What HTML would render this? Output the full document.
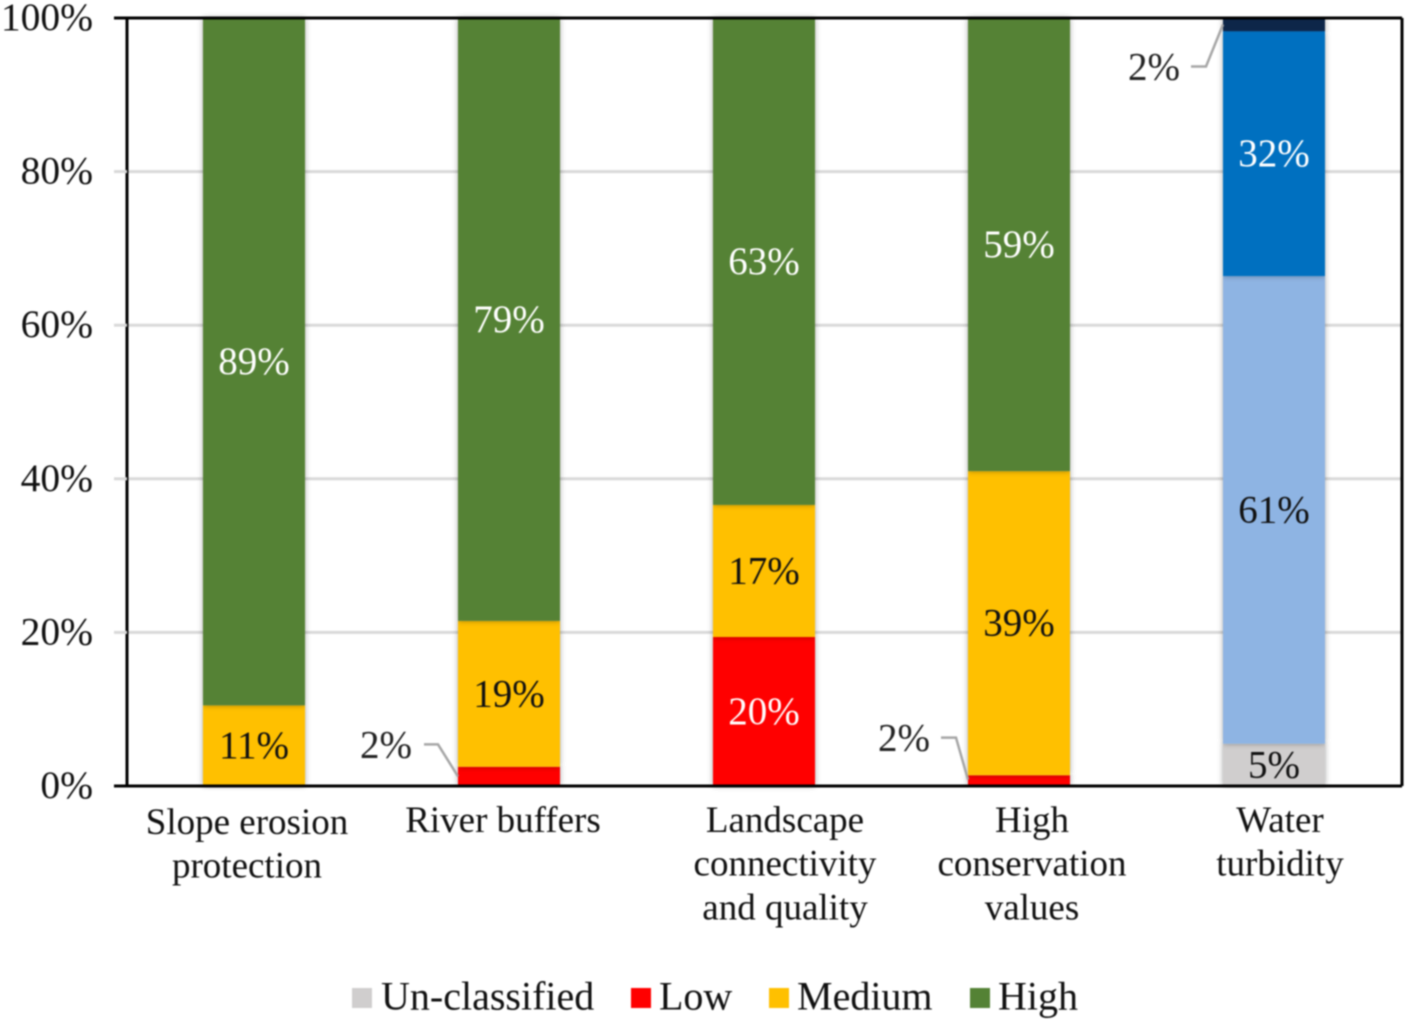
<!DOCTYPE html>
<html lang="en">
<head>
<meta charset="utf-8">
<title>Stacked bar chart of classification shares</title>
<style>
  html, body { margin: 0; padding: 0; background: #fff; }
  body { width: 1406px; height: 1021px; overflow: hidden; }
  svg { display: block; filter: blur(0.7px); }
  text { font-family: "Liberation Serif", "Times New Roman", serif; }
</style>
</head>
<body>
<svg id="chart" xmlns="http://www.w3.org/2000/svg" width="1406" height="1021" viewBox="0 0 1406 1021">
  <defs>
    <filter id="bar-shadow" x="-15%" y="-5%" width="130%" height="110%">
      <feDropShadow dx="0" dy="0" stdDeviation="3" flood-color="#000" flood-opacity="0.35"/>
    </filter>
  </defs>
  <g id="grid"></g>
  <g id="bars"></g>
  <g id="frame"></g>
  <g id="labels"></g>
  <g id="yaxis"></g>
  <g id="xaxis"></g>
  <g id="legend">
    <g>
      <rect x="352" y="988" width="20" height="20" fill="#d0cece"/>
      <text x="381" y="1009.5" font-size="40" fill="#111">Un-classified</text>
    </g>
    <g>
      <rect x="631" y="988" width="20" height="20" fill="#ff0000"/>
      <text x="659" y="1009.5" font-size="40" fill="#111">Low</text>
    </g>
    <g>
      <rect x="769" y="988" width="20" height="20" fill="#ffc000"/>
      <text x="797" y="1009.5" font-size="40" fill="#111">Medium</text>
    </g>
    <g>
      <rect x="970" y="988" width="20" height="20" fill="#548235"/>
      <text x="998" y="1009.5" font-size="40" fill="#111">High</text>
    </g>
  </g>
</svg>
<script>
const categories = ["Slope erosion protection", "River buffers", "Landscape connectivity and quality", "High conservation values", "Water turbidity"];
const categoryLines = [["Slope erosion", "protection"], ["River buffers"], ["Landscape", "connectivity", "and quality"], ["High", "conservation", "values"], ["Water", "turbidity"]];
const yTicks = [0, 20, 40, 60, 80, 100];
const seriesUnclassified = [0, 0, 0, 0, 5.5];
const seriesLow = [0, 2.5, 19.4, 1.4, 0];
const seriesMedium = [10.5, 19, 17.2, 39.6, 0];
const seriesHigh = [89.5, 78.5, 63.4, 59, 0];
const seriesTurbidityLight = [0, 0, 0, 0, 60.9];
const seriesTurbidityMid = [0, 0, 0, 0, 31.9];
const seriesTurbidityDark = [0, 0, 0, 0, 1.7];
const labelsUnclassified = ["", "", "", "", "5%"];
const labelsLow = ["", "2%", "20%", "2%", ""];
const labelsMedium = ["11%", "19%", "17%", "39%", ""];
const labelsHigh = ["89%", "79%", "63%", "59%", ""];
const labelsTurbidityLight = ["", "", "", "", "61%"];
const labelsTurbidityMid = ["", "", "", "", "32%"];
const labelsTurbidityDark = ["", "", "", "", "2%"];

const NS = "http://www.w3.org/2000/svg";
const plot = { left: 127, right: 1402, top: 18, bottom: 786 };
const barWidth = 102;
function xCenter(i) {
  return plot.left + (plot.right - plot.left) * (i + 0.5) / categories.length - 0.5;
}
function yScale(v) {
  return plot.bottom - (plot.bottom - plot.top) * v / 100;
}
function make(tag, attrs, parent, content) {
  const el = document.createElementNS(NS, tag);
  for (const k in attrs) el.setAttribute(k, attrs[k]);
  if (content !== undefined) el.textContent = content;
  parent.appendChild(el);
  return el;
}

const gridG = document.getElementById("grid");
const barsG = document.getElementById("bars");
const frameG = document.getElementById("frame");
const labelsG = document.getElementById("labels");
const yG = document.getElementById("yaxis");
const xG = document.getElementById("xaxis");

yTicks.forEach(function (t) {
  const y = yScale(t);
  const isEdge = t === 0 || t === 100;
  if (!isEdge) {
    const grid = make("line", { x1: plot.left, x2: plot.right, y1: y, y2: y, stroke: "#d9d9d9", "stroke-width": 3 }, gridG);
    
    
  }
  const tick = make("line", { x1: plot.left - 13, x2: plot.left, y1: y, y2: y, stroke: isEdge ? "#000" : "#d9d9d9", "stroke-width": 3 }, yG);
  
  
  const label = make("text", { x: 93, y: y + 12, "text-anchor": "end", "font-size": 39.5, fill: "#111" }, yG, t + "%");
  
  
});

const stackOrder = [
  { key: "unclassified", values: seriesUnclassified, labels: labelsUnclassified, color: "#d0cece", text: "#111" },
  { key: "low", values: seriesLow, labels: labelsLow, color: "#ff0000", text: "#fff" },
  { key: "medium", values: seriesMedium, labels: labelsMedium, color: "#ffc000", text: "#111" },
  { key: "high", values: seriesHigh, labels: labelsHigh, color: "#548235", text: "#fff" },
  { key: "turbidity-light", values: seriesTurbidityLight, labels: labelsTurbidityLight, color: "#8eb4e3", text: "#111" },
  { key: "turbidity-mid", values: seriesTurbidityMid, labels: labelsTurbidityMid, color: "#0070c0", text: "#fff" },
  { key: "turbidity-dark", values: seriesTurbidityDark, labels: labelsTurbidityDark, color: "#0f2749", text: "#fff" }
];

function calloutFor(seriesKey, i) {
  if (seriesKey === "low" && i === 1) return { dx: -123, dy: -32, outer: -85, knee: -71, tipY: 0 };
  if (seriesKey === "low" && i === 3) return { dx: -115, dy: -43, outer: -78, knee: -63, tipY: -1 };
  if (seriesKey === "turbidity-dark" && i === 4) return { dx: -120, dy: 42, outer: -83, knee: -68, tipY: 0 };
  return null;
}

categories.forEach(function (cat, i) {
  let total = 0;
  const cx = xCenter(i);
  stackOrder.forEach(function (s) {
    const v = s.values[i];
    if (v <= 0) return;
    const y0 = yScale(total + v);
    const y1 = yScale(total);
    const rect = make("rect", { x: cx - barWidth / 2, y: y0, width: barWidth, height: y1 - y0, fill: s.color, filter: "url(#bar-shadow)" }, barsG);
    
    
    const mid = (y0 + y1) / 2;
    const text = s.labels[i];
    if (text) {
      const co = calloutFor(s.key, i);
      if (co) {
        const leftEdge = cx - barWidth / 2;
        const path = make("polyline", {
          points: (cx + co.outer) + "," + (mid + co.dy) + " " + (cx + co.knee) + "," + (mid + co.dy) + " " + leftEdge + "," + (mid + co.tipY),
          fill: "none", stroke: "#a6a6a6", "stroke-width": 2.5
        }, labelsG);
        
        
        const lab = make("text", { x: cx + co.dx, y: mid + co.dy + 13, "text-anchor": "middle", "font-size": 39, fill: "#222" }, labelsG, text);
        
        
      } else {
        const lab = make("text", { x: cx, y: mid + 12.5, "text-anchor": "middle", "font-size": 39, fill: s.text }, labelsG, text);
        
        
      }
    }
    total += v;
  });
});

make("line", { x1: plot.left, x2: plot.right, y1: plot.top, y2: plot.top, stroke: "#000", "stroke-width": 3 }, frameG);
make("line", { x1: plot.left, x2: plot.right, y1: plot.bottom, y2: plot.bottom, stroke: "#000", "stroke-width": 3 }, frameG);
make("line", { x1: plot.left, x2: plot.left, y1: plot.top, y2: plot.bottom, stroke: "#000", "stroke-width": 3 }, frameG);
make("line", { x1: plot.right, x2: plot.right, y1: plot.top, y2: plot.bottom, stroke: "#000", "stroke-width": 3 }, frameG);

const categoryNudgeX = [-7.5, -6.5, 20.5, 12.5, 5.5];
const categoryFirstLineY = [834, 832, 832, 832, 832];
categoryLines.forEach(function (lines, i) {
  lines.forEach(function (line, j) {
    const t = make("text", { x: xCenter(i) + 0.5 + categoryNudgeX[i], y: categoryFirstLineY[i] + j * 43.7, "text-anchor": "middle", "font-size": 37, fill: "#111" }, xG, line);
    
    
  });
});
</script>
</body>
</html>
